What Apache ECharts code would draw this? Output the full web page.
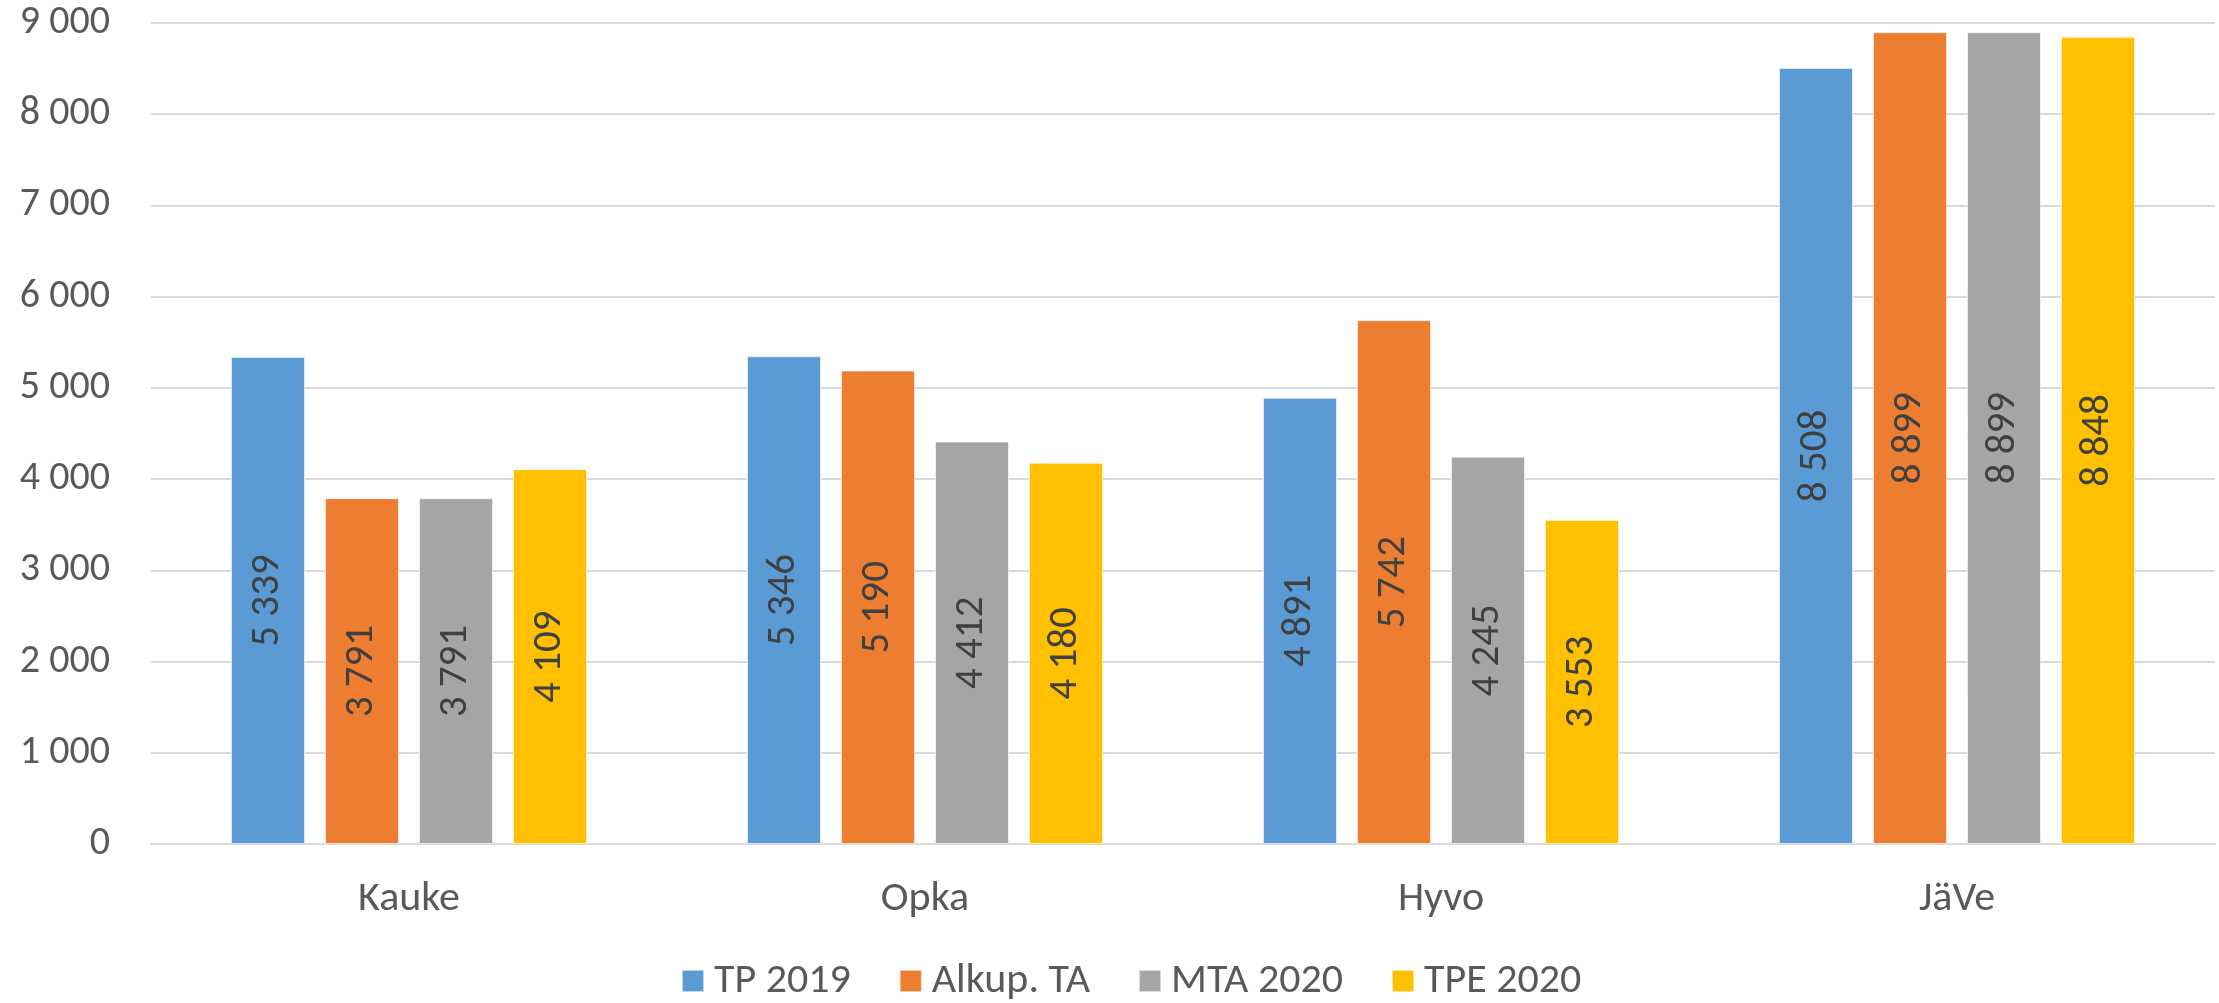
<!DOCTYPE html>
<html>
<head>
<meta charset="utf-8">
<script src="https://cdn.jsdelivr.net/npm/echarts@6/dist/echarts.min.js"></script>
<style>
  html, body { margin: 0; padding: 0; background: #fff; }
  #chart { width: 2219px; height: 1003px; }
</style>
</head>
<body>
<div id="chart"></div>
<script>
var categories = ['Kauke', 'Opka', 'Hyvo', 'JäVe'];
var seriesNames = ['TP 2019', 'Alkup. TA', 'MTA 2020', 'TPE 2020'];
var tp2019 = [5339, 5346, 4891, 8508];
var alkupTA = [3791, 5190, 5742, 8899];
var mta2020 = [3791, 4412, 4245, 8899];
var tpe2020 = [4109, 4180, 3553, 8848];
var colors = ['#5B9BD5', '#ED7D31', '#A5A5A5', '#FFC000'];

var fontFam = 'Carlito, Calibri, "Open Sans", sans-serif';

// 9000 -> "9 000"
function fmt(v) {
    return String(v).replace(/\B(?=(\d{3})+(?!\d))/g, ' ');
}

var myChart = echarts.init(document.getElementById('chart'));

var makeSeries = function (name, data, i) {
    return {
        name: name,
        type: 'bar',
        data: data,
        barGap: '27%',
        barCategoryGap: '31%',
        itemStyle: {
            color: colors[i],
            borderColor: 'rgba(255,255,255,0.6)',
            borderWidth: 1
        },
        label: {
            show: true,
            position: 'inside',
            rotate: 90,
            color: '#404040',
            fontFamily: fontFam,
            fontSize: 41,
            formatter: function (p) { return fmt(p.value); }
        }
    };
};

var option = {
    backgroundColor: '#fff',
    animation: false,
    color: colors,
    grid: {
        left: 151,
        right: 4,
        top: 23,
        bottom: 159,
        containLabel: false
    },
    legend: {
        data: seriesNames,
        left: 676,
        top: 955,
        itemWidth: 22,
        itemHeight: 22,
        itemGap: 48,
        icon: 'rect',
        textStyle: {
            color: '#595959',
            fontFamily: fontFam,
            fontSize: 42,
            padding: [0, 0, 0, 5]
        }
    },
    xAxis: {
        type: 'category',
        data: categories,
        axisLine: { lineStyle: { color: '#D9D9D9', width: 2 } },
        axisTick: { show: false },
        axisLabel: {
            color: '#595959',
            fontFamily: fontFam,
            fontSize: 42,
            margin: 34
        }
    },
    yAxis: {
        type: 'value',
        min: 0,
        max: 9000,
        interval: 1000,
        axisLine: { show: false },
        axisTick: { show: false },
        splitLine: { lineStyle: { color: '#D9D9D9', width: 2 } },
        axisLabel: {
            color: '#595959',
            fontFamily: fontFam,
            fontSize: 40,
            margin: 41,
            formatter: function (v) { return fmt(v); }
        }
    },
    series: [
        makeSeries(seriesNames[0], tp2019, 0),
        makeSeries(seriesNames[1], alkupTA, 1),
        makeSeries(seriesNames[2], mta2020, 2),
        makeSeries(seriesNames[3], tpe2020, 3)
    ]
};

myChart.setOption(option);
</script>
</body>
</html>
